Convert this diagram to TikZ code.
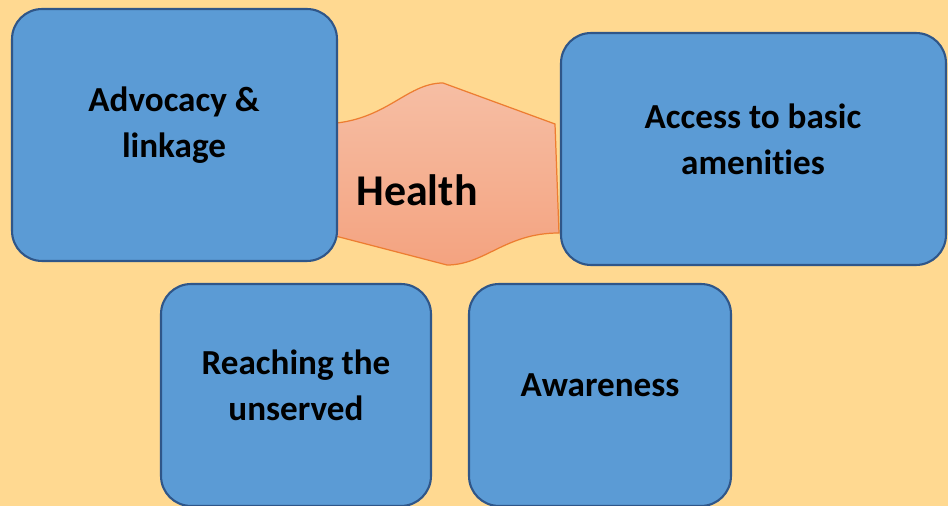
\documentclass[tikz,border=0pt]{standalone}
\usepackage{fontspec}
\setmainfont{Carlito}[Ligatures=NoCommon]
\usepackage{tikz}
\usetikzlibrary{positioning}

\definecolor{bgcol}{HTML}{FFD991}
\definecolor{boxfill}{HTML}{5B9BD5}
\definecolor{boxline}{HTML}{2F5689}
\definecolor{hubline}{HTML}{ED7D31}
\definecolor{hubtop}{HTML}{F6BEA4}
\definecolor{hubbot}{HTML}{F4A380}

\begin{document}
\begin{tikzpicture}[x=0.02cm,y=-0.02cm,
  box/.style={draw=boxline,fill=boxfill,line width=1.2pt,rounded corners=0.6cm},
  lbl/.style={align=center,font=\fontsize{20}{26}\selectfont\bfseries}]
% background
\fill[bgcol] (0,0) rectangle (948,506);
\useasboundingbox (0,0) rectangle (948,506);
% draw hub shape
\draw[hubline,line width=0.7pt,top color=hubtop,bottom color=hubbot]
  (320,124) .. controls (385,124) and (405,83) .. (443,83) -- (555,124)
  -- (559,233) .. controls (505,233) and (485,265) .. (447,265)
  -- (320,232) -- cycle;
\node[font=\fontsize{25}{30}\selectfont\bfseries] (health) at (417,190) {Health};
% draw boxes
\node[box,minimum width=6.5cm,minimum height=5.04cm] (adv) at (174.5,135) {};
\node[box,minimum width=7.7cm,minimum height=4.64cm] (access) at (753.5,149) {};
\node[box,minimum width=5.4cm,minimum height=4.44cm] (reach) at (296,395) {};
\node[box,minimum width=5.24cm,minimum height=4.44cm] (aware) at (600,395) {};
% box labels
\node[lbl] (advT) at (174,125) {Advocacy \&\\linkage};
\node[lbl] (accessT) at (753,139) {Access to basic\\amenities};
\node[lbl] (reachT) at (296,385) {Reaching the\\unserved};
\node[lbl] (awareT) at (600,385) {Awareness};
\end{tikzpicture}
\end{document}
